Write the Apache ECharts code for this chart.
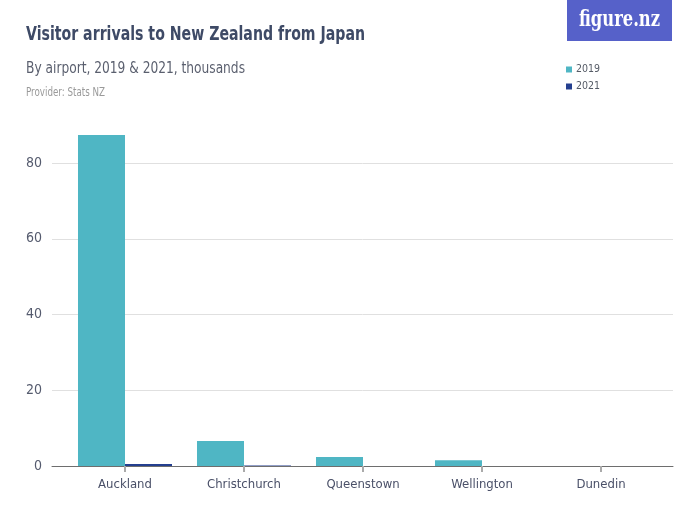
<!DOCTYPE html>
<html><head><meta charset="utf-8">
<script src="https://cdn.jsdelivr.net/npm/echarts@6/dist/echarts.min.js"></script>
<style>html,body{margin:0;padding:0;background:#fff}#c{width:700px;height:525px}</style>
</head><body><div id="c"></div>
<script>
const categories = ['Auckland', 'Christchurch', 'Queenstown', 'Wellington', 'Dunedin'];
const values2019 = [87.4, 6.6, 2.4, 1.5, 0];
const values2021 = [0.5, 0.1, 0, 0, 0];
const yTicks = [0, 20, 40, 60, 80];
const seriesNames = ['2019', '2021'];

const FONT = '"Liberation Sans Narrow", "DejaVu Sans Condensed", "Roboto", sans-serif';
const ctx = document.createElement('canvas').getContext('2d');
function fitScale(text, font, target) {
  ctx.font = font;
  const w = ctx.measureText(text).width;
  return w > 0 ? target / w : 1;
}
function fittedText(text, font, x, yMid, target, fill) {
  return {type: 'text', x: x, y: yMid, scaleX: fitScale(text, font, target), scaleY: 1,
    originX: 0, originY: 0,
    style: {text: text, font: font, fill: fill, textAlign: 'left', textVerticalAlign: 'middle', verticalAlign: 'middle'}};
}
const titleFont = 'bold 20px ' + FONT;
const subFont = '16px ' + FONT;
const provFont = '11.5px ' + FONT;
const logoFont = 'bold 22px "DejaVu Serif", "Liberation Serif", serif';

const chart = echarts.init(document.getElementById('c'), null, {renderer: 'canvas'});
chart.setOption({
  animation: false,
  backgroundColor: '#fff',
  graphic: [
    {type: 'rect', x: 567, y: 0, shape: {width: 105, height: 41}, style: {fill: '#5661c9'}},
    fittedText('figure.nz', logoFont, 579, 20, 81, '#ffffff'),
    fittedText('Visitor arrivals to New Zealand from Japan', titleFont, 26, 35, 339, '#3e4a66'),
    fittedText('By airport, 2019 & 2021, thousands', subFont, 26, 68.5, 219, '#5a5f6e'),
    fittedText('Provider: Stats NZ', provFont, 26, 93.5, 79, '#9a9a9a')
  ],
  legend: {
    orient: 'vertical', left: 561, top: 59, itemWidth: 6, itemHeight: 6, itemGap: 6,
    icon: 'rect', data: seriesNames,
    textStyle: {fontFamily: FONT, fontSize: 10.5, color: '#555b66', padding: [0, 0, 0, -1]}
  },
  color: ['#4fb6c4', '#243f8f'],
  grid: [
    {left: 65.5, right: 39.5, top: 163, bottom: 59},
    {left: 52, right: 27, top: 163, bottom: 59}
  ],
  xAxis: [
    {type: 'category', gridIndex: 0, data: categories,
     axisLine: {show: false},
     axisTick: {show: true, alignWithLabel: true, length: 6, lineStyle: {color: '#aaaaaa', width: 2}},
     axisLabel: {fontFamily: FONT, fontSize: 13, color: '#4a5068', margin: 12}},
    {type: 'value', gridIndex: 1, min: 0, max: 1,
     axisLine: {show: true, lineStyle: {color: '#6e6e6e', width: 1}},
     axisTick: {show: false}, axisLabel: {show: false}, splitLine: {show: false}}
  ],
  yAxis: [
    {type: 'value', gridIndex: 0, min: yTicks[0], max: yTicks[yTicks.length - 1], interval: 20,
     axisLine: {show: false}, axisTick: {show: false}, axisLabel: {show: false}, splitLine: {show: false}},
    {type: 'value', gridIndex: 1, min: yTicks[0], max: yTicks[yTicks.length - 1], interval: 20,
     axisLine: {show: false}, axisTick: {show: false},
     axisLabel: {fontFamily: FONT, fontSize: 14, color: '#555b6e', margin: 10},
     splitLine: {show: true, lineStyle: {color: '#e0e0e0', width: 1}}}
  ],
  series: [
    {name: seriesNames[0], type: 'bar', xAxisIndex: 0, yAxisIndex: 0, data: values2019,
     barGap: '0%', barCategoryGap: '21%', clip: false, z: 3},
    {name: seriesNames[1], type: 'bar', xAxisIndex: 0, yAxisIndex: 0, data: values2021,
     barGap: '0%', barCategoryGap: '21%', clip: false, z: 3}
  ]
});
</script></body></html>
